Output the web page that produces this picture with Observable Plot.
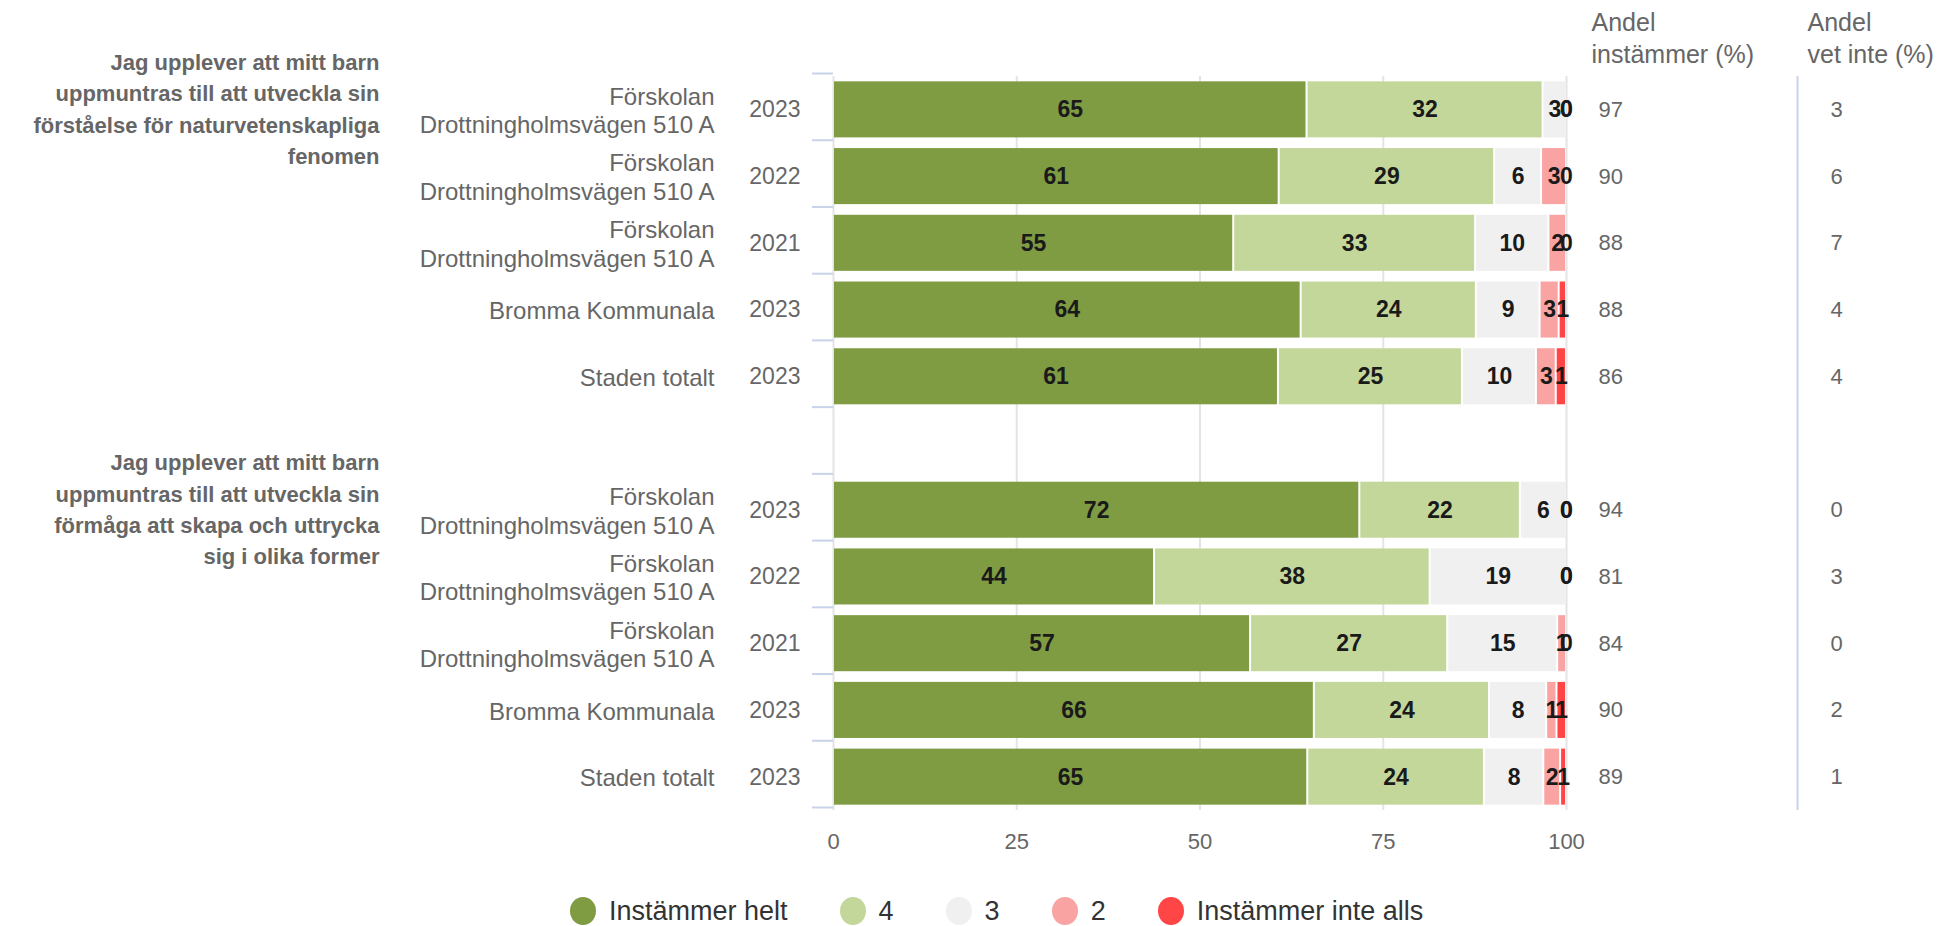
<!DOCTYPE html>
<html><head><meta charset="utf-8">
<script src="https://cdn.jsdelivr.net/npm/d3@7"></script>
<script src="https://cdn.jsdelivr.net/npm/@observablehq/plot@0.6"></script>
<style>
html,body{margin:0;padding:0;background:#fff;overflow:hidden;font-family:"Liberation Sans",Arial,sans-serif;}
#legend{display:flex;align-items:center;height:30px;margin-top:16px;padding-left:570px;font-size:27px;color:#333;}
#legend .item{display:flex;align-items:center;margin-right:52px;}
#legend .dot{display:inline-block;width:26px;height:28px;border-radius:50%;margin-right:13px;}
</style></head><body>
<div id="chart"></div>
<div id="legend"></div>
<script>
// ---- data ----
const questions = [
  "Jag upplever att mitt barn\nuppmuntras till att utveckla sin\nförståelse för naturvetenskapliga\nfenomen",
  "Jag upplever att mitt barn\nuppmuntras till att utveckla sin\nförmåga att skapa och uttrycka\nsig i olika former"
];
const units = [
  "Förskolan\nDrottningholmsvägen 510 A",
  "Förskolan\nDrottningholmsvägen 510 A",
  "Förskolan\nDrottningholmsvägen 510 A",
  "Bromma Kommunala",
  "Staden totalt"
];
const years = ["2023", "2022", "2021", "2023", "2023"];
const categories = ["Instämmer helt", "4", "3", "2", "Instämmer inte alls"];
const colors = ["#7f9c42", "#c4d79b", "#f0f0f0", "#f9a3a3", "#ff4545"];
const q1Values = [
  [64.6, 32.2, 3.2, 0, 0],
  [60.8, 29.4, 6.4, 3.4, 0],
  [54.6, 33.0, 10.0, 2.4, 0],
  [63.8, 23.9, 8.7, 2.6, 1.0],
  [60.7, 25.1, 10.1, 2.7, 1.4]
];
const q2Values = [
  [71.8, 21.9, 6.3, 0, 0],
  [43.8, 37.6, 18.6, 0, 0],
  [56.9, 26.9, 15.0, 1.2, 0],
  [65.6, 23.9, 7.8, 1.4, 1.3],
  [64.7, 24.1, 8.1, 2.3, 0.8]
];
const q1Agree = [97, 90, 88, 88, 86];
const q1DontKnow = [3, 6, 7, 4, 4];
const q2Agree = [94, 81, 84, 90, 89];
const q2DontKnow = [0, 3, 0, 2, 1];
const xTicks = [0, 25, 50, 75, 100];
const headerAgree = "Andel\ninstämmer (%)";
const headerDontKnow = "Andel\nvet inte (%)";

// ---- build tables ----
const groups = [
  {q: questions[0], values: q1Values, agree: q1Agree, dk: q1DontKnow, start: 0},
  {q: questions[1], values: q2Values, agree: q2Agree, dk: q2DontKnow, start: 6}
];
const rows = [], segments = [], titles = [];
for (const g of groups) {
  titles.push({idx: g.start, text: g.q});
  g.values.forEach((vals, i) => {
    const idx = g.start + i;
    rows.push({idx, unit: units[i], year: years[i], agree: g.agree[i], dk: g.dk[i]});
    let acc = 0;
    vals.forEach((v, k) => {
      segments.push({idx, cat: categories[k], value: v, x1: acc, x2: acc + v});
      acc += v;
    });
  });
}
const boundaries = d3.range(-0.5, 11, 1);
const half = 0.42;
const gridColor = "#e4e4e4";
const blueLine = "#c8d2e8";

const chart = Plot.plot({
  width: 1944,
  height: 880,
  marginLeft: 833,
  marginRight: 378,
  marginTop: 76,
  marginBottom: 70,
  style: {fontFamily: "'Liberation Sans', Arial, sans-serif", fontSize: "22px", color: "#666", background: "#fff"},
  x: {domain: [0, 100], axis: null},
  y: {domain: [-0.5, 10.5], reverse: true, axis: null},
  color: {domain: categories, range: colors},
  marks: [
    Plot.ruleX(xTicks, {y1: -0.5, y2: 10.5, stroke: gridColor, strokeWidth: 2}),
    Plot.rect(segments.filter(d => d.value > 0), {
      x1: "x1", x2: "x2", y1: d => d.idx - half, y2: d => d.idx + half,
      fill: "cat", insetLeft: 1, insetRight: 1
    }),
    Plot.text(segments, {
      x: d => (d.x1 + d.x2) / 2, y: "idx", text: d => String(Math.round(d.value)),
      fontWeight: "bold", fontSize: 23, fill: "#1a1a1a"
    }),
    Plot.axisY({ticks: boundaries, tickSize: 21, tickFormat: () => "", label: null, stroke: blueLine, strokeWidth: 2, dy: -3}),
    Plot.axisX({ticks: xTicks, tickSize: 0, tickPadding: 23, fontSize: 22, fill: "#666", label: null}),
    Plot.text(rows, {y: "idx", text: "unit", frameAnchor: "left", textAnchor: "end", dx: -119, lineHeight: 1.19, fontSize: 24, fill: "#666"}),
    Plot.text(rows, {y: "idx", text: "year", frameAnchor: "left", textAnchor: "end", dx: -33, fontSize: 23, fill: "#666"}),
    Plot.text(titles, {y: "idx", text: "text", frameAnchor: "left", textAnchor: "end", dx: -454, dy: -3,
      lineHeight: 1.427, fontSize: 22, fontWeight: "bold", fontFamily: "'Liberation Sans Narrow', 'Liberation Sans', Arial, sans-serif", fill: "#666"}),
    Plot.text([headerAgree], {text: d => d, frameAnchor: "top-right", textAnchor: "start", lineAnchor: "bottom", dx: 25, dy: -14, lineHeight: 1.28, fontSize: 25, fill: "#666"}),
    Plot.text([headerDontKnow], {text: d => d, frameAnchor: "top-right", textAnchor: "start", lineAnchor: "bottom", dx: 241, dy: -14, lineHeight: 1.28, fontSize: 25, fill: "#666"}),
    Plot.text(rows, {y: "idx", text: d => String(d.agree), frameAnchor: "right", textAnchor: "start", dx: 32, fontSize: 22, fill: "#666"}),
    Plot.ruleX([100], {y1: -0.5, y2: 10.5, dx: 231, stroke: blueLine, strokeWidth: 2}),
    Plot.text(rows, {y: "idx", text: d => String(d.dk), frameAnchor: "right", textAnchor: "start", dx: 264, fontSize: 22, fill: "#666"})
  ]
});
document.getElementById("chart").appendChild(chart);

const legend = document.getElementById("legend");
categories.forEach((c, i) => {
  const item = document.createElement("span");
  item.className = "item";
  const dot = document.createElement("span");
  dot.className = "dot";
  dot.style.background = colors[i];
  const label = document.createElement("span");
  label.textContent = c;
  item.appendChild(dot);
  item.appendChild(label);
  legend.appendChild(item);
});
</script>
</body></html>
